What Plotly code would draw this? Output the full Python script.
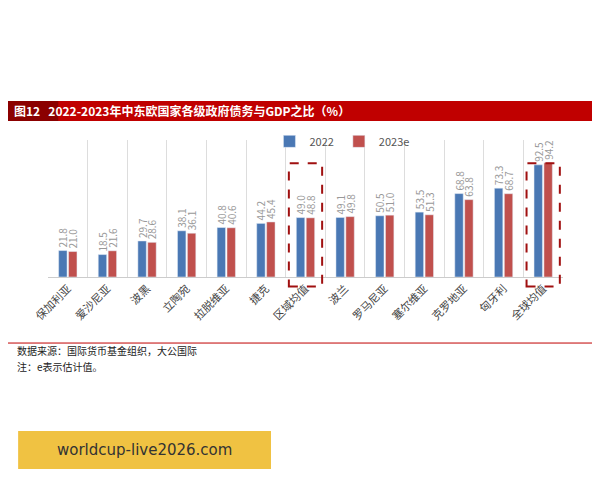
import plotly.graph_objects as go

countries = ["保加利亚", "爱沙尼亚", "波黑", "立陶宛", "拉脱维亚", "捷克", "区域均值",
             "波兰", "罗马尼亚", "塞尔维亚", "克罗地亚", "匈牙利", "全球均值"]
debt_2022 = [21.8, 18.5, 29.7, 38.1, 40.8, 44.2, 49.0, 49.1, 50.5, 53.5, 68.8, 73.3, 92.5]
debt_2023 = [21.0, 21.6, 28.6, 36.1, 40.6, 45.4, 48.8, 49.8, 51.0, 51.3, 63.8, 68.7, 94.2]

FONT = "Noto Sans CJK SC"
BLUE = "#4a78b4"
RED = "#c0504d"

fig = go.Figure()
for name, vals, color in [("2022", debt_2022, BLUE), ("2023e", debt_2023, RED)]:
    fig.add_trace(go.Bar(
        x=countries, y=vals, name=name, marker_color=color,
        text=[f"{v:.1f}" for v in vals], textposition="outside", textangle=-90,
        constraintext="none",
        textfont=dict(color="#999999", size=10), cliponaxis=False,
    ))

shapes = [
    # title bar
    dict(type="rect", xref="paper", yref="paper", x0=-0.078, x1=1.083, y0=1.139, y1=1.285,
         fillcolor="#c00000", line_width=0, layer="below"),
    dict(type="rect", xref="paper", yref="paper", x0=-0.078, x1=0.02, y0=1.139, y1=1.285,
         fillcolor="#8b0000", line_width=0, layer="below"),
    # bottom separator
    dict(type="line", xref="paper", yref="paper", x0=-0.078, x1=1.083, y0=-0.482, y1=-0.482,
         line=dict(color="#c00000", width=1)),
    # banner
    dict(type="rect", xref="paper", yref="paper", x0=-0.058, x1=0.433, y0=-1.401, y1=-1.124,
         fillcolor="#f0c242", line_width=0),
]
for c in (6, 12):
    shapes.append(dict(type="rect", xref="x", yref="paper", x0=c - 0.42, x1=c + 0.42,
                       y0=-0.07, y1=0.83,
                       line=dict(color="#a01010", width=2, dash="dash")))

annotations = [
    dict(text="<b>图12   2022-2023年中东欧国家各级政府债务与GDP之比（%）</b>", xref="paper", yref="paper",
         x=-0.07, y=1.212, xanchor="left", yanchor="middle", showarrow=False,
         font=dict(color="white", size=12, family=FONT)),
    dict(text="数据来源：国际货币基金组织，大公国际", xref="paper", yref="paper",
         x=-0.065, y=-0.54, xanchor="left", yanchor="middle", showarrow=False,
         font=dict(color="#222222", size=10, family=FONT)),
    dict(text="注：e表示估计值。", xref="paper", yref="paper",
         x=-0.065, y=-0.655, xanchor="left", yanchor="middle", showarrow=False,
         font=dict(color="#222222", size=10, family=FONT)),
    dict(text="worldcup-live2026.com", xref="paper", yref="paper",
         x=0.187, y=-1.262, xanchor="center", yanchor="middle", showarrow=False,
         font=dict(color="#333333", size=15, family="DejaVu Sans")),
]

fig.update_layout(
    width=600, height=480,
    margin=dict(l=40, r=45, t=132, b=211),
    paper_bgcolor="white", plot_bgcolor="white",
    font=dict(family=FONT),
    barmode="group", bargap=0.5, bargroupgap=0.15,
    shapes=shapes, annotations=annotations,
    legend=dict(orientation="h", x=0.43, y=0.99, xanchor="left", yanchor="middle",
                font=dict(size=11, color="#555555"), itemwidth=30, tracegroupgap=0,
                bgcolor="rgba(0,0,0,0)"),
    xaxis=dict(tickangle=-45, tickson="boundaries", showgrid=True, gridcolor="#dddddd",
               ticks="", tickfont=dict(size=11, color="#444444"), showline=True,
               linecolor="#cccccc"),
    yaxis=dict(range=[0, 113], visible=False),
)

fig.write_html("out.html")
